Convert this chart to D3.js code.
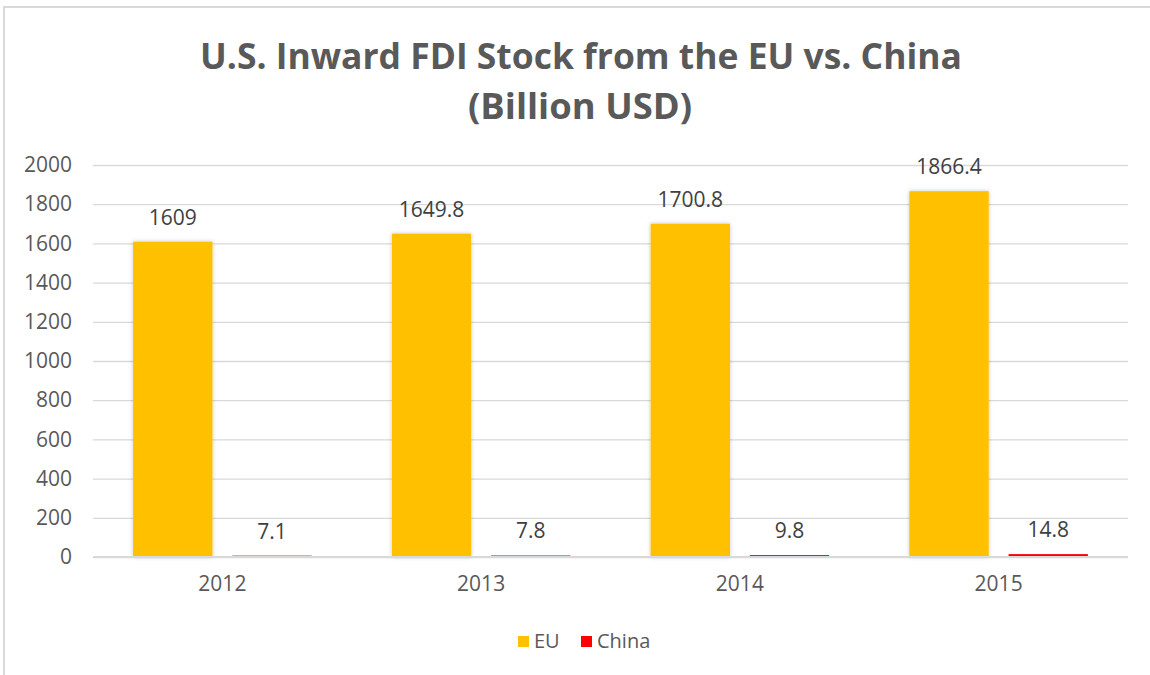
<!DOCTYPE html>
<html>
<head>
<meta charset="utf-8">
<script src="https://cdn.jsdelivr.net/npm/d3@7"></script>
<style>
  body { margin: 0; background: #fff; }
  svg { display: block; font-family: "Open Sans", sans-serif; }
</style>
</head>
<body>
<script>

// data
let years = ["2012", "2013", "2014", "2015"];
let series = ["EU", "China"];
let euValues = [1609, 1649.8, 1700.8, 1866.4];
let chinaValues = [7.1, 7.8, 9.8, 14.8];
let yTicks = [0, 200, 400, 600, 800, 1000, 1200, 1400, 1600, 1800, 2000];
let seriesColors = ["#ffc000", "#ff0000"];

function init() {

  const width = 1150, height = 675;
  const left = 93, right = 1128, top = 165, bottom = 557;

  const svg = d3.select("body").append("svg")
    .attr("width", width)
    .attr("height", height)
    .style("background-color", "#fff");

  // soft shadow like the excel bars
  let filter = svg.append("defs").append("filter")
    .attr("id", "shadow")
    .attr("x", "-20%").attr("y", "-5%")
    .attr("width", "140%").attr("height", "110%");
  filter.append("feDropShadow")
    .attr("dx", 0).attr("dy", 0)
    .attr("stdDeviation", 2)
    .attr("flood-color", "#000")
    .attr("flood-opacity", 0.22);

  // chart border (right and bottom are cut off in the picture)
  svg.append("rect")
    .attr("x", 4).attr("y", 7)
    .attr("width", width + 10).attr("height", height + 10)
    .attr("fill", "none")
    .attr("stroke", "#d9d9d9")
    .attr("stroke-width", 2);

  // title
  let title = svg.append("text")
    .attr("text-anchor", "middle")
    .attr("fill", "#595959")
    .attr("font-weight", "bold")
    .attr("font-size", 35);
  title.append("tspan").attr("x", 581).attr("y", 69)
    .attr("textLength", 762).attr("lengthAdjust", "spacingAndGlyphs")
    .text("U.S. Inward FDI Stock from the EU vs. China");
  title.append("tspan").attr("x", 580).attr("y", 119)
    .attr("textLength", 224).attr("lengthAdjust", "spacingAndGlyphs")
    .text("(Billion USD)");

  let y = d3.scaleLinear().domain([0, 2000]).range([bottom, top]);

  let x0 = d3.scaleBand().domain(years).range([left, right]).padding(0);
  let pad = x0.bandwidth() * 0.155;
  let x1 = d3.scaleBand().domain(series)
    .range([pad, x0.bandwidth() - pad])
    .paddingInner(0.2);

  // gridlines
  svg.append("g")
    .attr("transform", "translate(" + left + ",0)")
    .call(d3.axisLeft(y).tickValues(yTicks).tickSize(-(right - left)).tickFormat(""))
    .call(g => g.select(".domain").remove())
    .call(g => g.selectAll("line").attr("stroke", "#d9d9d9").attr("stroke-width", 1.3));

  // y labels
  svg.append("g")
    .attr("transform", "translate(" + (left - 21) + ",0)")
    .call(d3.axisLeft(y).tickValues(yTicks).tickSize(0).tickPadding(0).tickFormat(d3.format("d")))
    .call(g => g.select(".domain").remove())
    .call(g => g.selectAll("text")
      .attr("fill", "#595959")
      .attr("font-size", 21)
      .attr("font-family", "Open Sans, sans-serif"));

  // x labels
  svg.append("g")
    .attr("transform", "translate(0," + bottom + ")")
    .call(d3.axisBottom(x0).tickSize(0).tickPadding(19))
    .call(g => g.select(".domain").remove())
    .call(g => g.selectAll("text")
      .attr("fill", "#595959")
      .attr("font-size", 21)
      .attr("font-family", "Open Sans, sans-serif"));

  let rows = years.map((yr, i) => ({
    year: yr,
    values: [
      { key: "EU", value: euValues[i] },
      { key: "China", value: chinaValues[i] }
    ]
  }));

  let groups = svg.selectAll(".year")
    .data(rows)
    .enter()
      .append("g")
        .attr("class", "year")
        .attr("transform", d => "translate(" + x0(d.year) + ",0)");

  groups.selectAll("rect")
    .data(d => d.values)
    .enter()
      .append("rect")
        .attr("x", d => x1(d.key))
        .attr("y", d => y(d.value))
        .attr("width", x1.bandwidth())
        .attr("height", d => bottom - y(d.value))
        .attr("fill", (d, i) => seriesColors[i])
        .attr("filter", (d, i) => i == 0 ? "url(#shadow)" : null);

  // baseline sits on top of the bars
  svg.append("line")
    .attr("x1", left).attr("x2", right)
    .attr("y1", y(0)).attr("y2", y(0))
    .attr("stroke", "#d9d9d9")
    .attr("stroke-width", 2.2);

  // value labels
  groups.selectAll(".val")
    .data(d => d.values)
    .enter()
      .append("text")
        .attr("class", "val")
        .attr("x", d => x1(d.key) + x1.bandwidth() / 2)
        .attr("y", d => y(d.value) - 17)
        .attr("text-anchor", "middle")
        .attr("fill", "#404040")
        .attr("font-size", 21)
        .text(d => d.value);

  // legend
  let legendX = [518, 581];
  let legend = svg.selectAll(".legend")
    .data(series)
    .enter()
      .append("g")
        .attr("class", "legend")
        .attr("transform", (d, i) => "translate(" + legendX[i] + ",636)");

  legend.append("rect")
    .attr("width", 11).attr("height", 11)
    .attr("fill", (d, i) => seriesColors[i]);

  legend.append("text")
    .attr("x", 16).attr("y", 12)
    .attr("fill", "#595959")
    .attr("font-size", 20)
    .text(d => d);
}

init();
</script>
</body>
</html>
